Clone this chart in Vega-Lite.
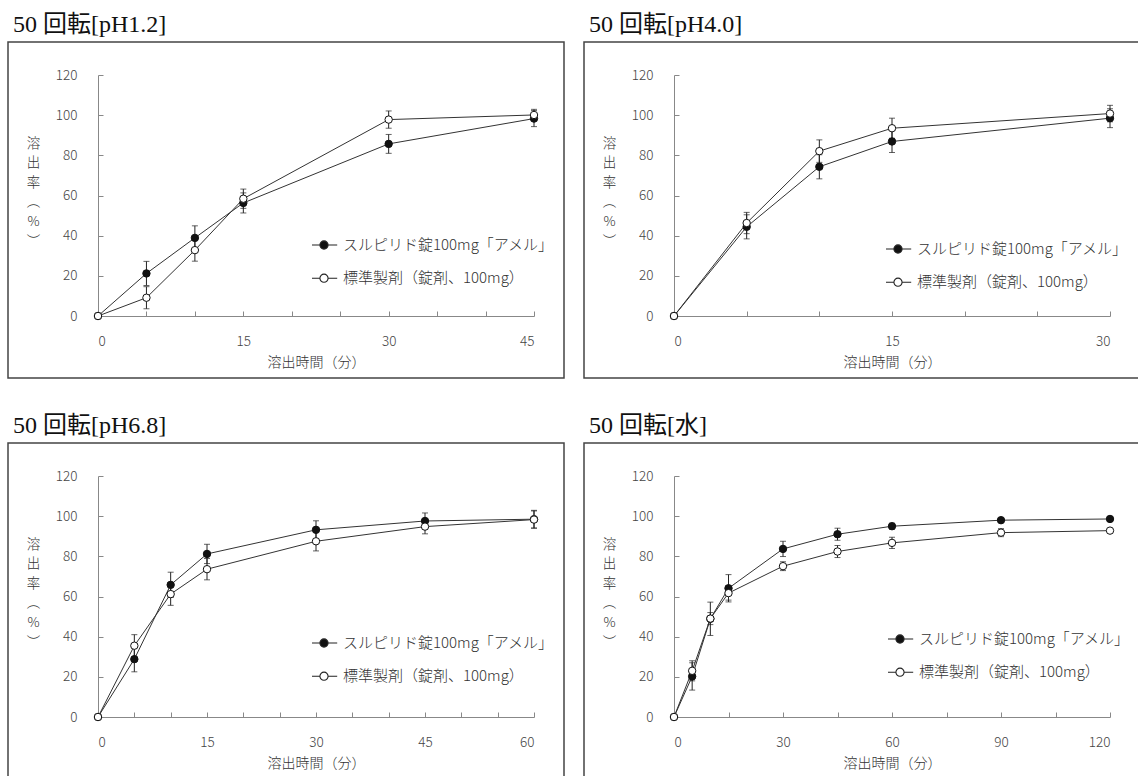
{
  "$schema": "https://vega.github.io/schema/vega-lite/v6.json",
  "background": "white",
  "padding": {"left": 7, "top": 12, "right": 0, "bottom": 0},
  "config": {
    "view": {"stroke": "#444", "strokeWidth": 1.5},
    "axis": {"grid": false, "domainColor": "#888", "tickColor": "#888", "labelFont": "Noto Sans CJK JP", "labelFontSize": 13.5, "labelFontWeight": 300, "labelColor": "#444", "titleFont": "Noto Sans CJK JP", "titleFontWeight": 300, "titleFontSize": 14, "titleColor": "#333"},
    "axisX": {"offset": -62, "tickSize": -5, "labelPadding": 23, "titleY": 46, "titleBaseline": "middle"},
    "axisY": {"offset": -90, "tickSize": -5, "labelPadding": 26, "titleAngle": 0, "titleX": -65, "titleY": 101, "titleAlign": "center", "titleBaseline": "middle", "titleLineHeight": 19.6, "titleFontSize": 13.5},
    "legend": {"title": null, "orient": "none", "symbolType": "M-1,0L-0.34,0M0.34,0L1.1,0M-0.34,0A0.34,0.34,0,1,1,0.34,0A0.34,0.34,0,1,1,-0.34,0Z", "symbolSize": 576, "symbolStrokeColor": "#222", "symbolStrokeWidth": 1.1, "labelFont": "Noto Sans CJK JP", "labelFontSize": 15, "labelFontWeight": 300, "labelColor": "#333", "labelOffset": 6, "rowPadding": 12.2, "padding": 0, "labelLimit": 400},
    "title": {"anchor": "start", "frame": "group", "font": "Liberation Serif, Noto Sans CJK JP", "fontSize": 24, "fontWeight": "normal", "color": "#111", "offset": 5, "baseline": "alphabetic", "dx": 5}
  },
  "datasets": {
    "p1": [
      {"t": 0, "series": "スルピリド錠100mg「アメル」", "y": 0, "sd": 0},
      {"t": 5, "series": "スルピリド錠100mg「アメル」", "y": 21.2, "sd": 6},
      {"t": 10, "series": "スルピリド錠100mg「アメル」", "y": 38.9, "sd": 6},
      {"t": 15, "series": "スルピリド錠100mg「アメル」", "y": 56.3, "sd": 5},
      {"t": 30, "series": "スルピリド錠100mg「アメル」", "y": 85.7, "sd": 4.7},
      {"t": 45, "series": "スルピリド錠100mg「アメル」", "y": 98.3, "sd": 4},
      {"t": 0, "series": "標準製剤（錠剤、100mg）", "y": 0, "sd": 0},
      {"t": 5, "series": "標準製剤（錠剤、100mg）", "y": 9.1, "sd": 5.5},
      {"t": 10, "series": "標準製剤（錠剤、100mg）", "y": 32.8, "sd": 5.5},
      {"t": 15, "series": "標準製剤（錠剤、100mg）", "y": 58.4, "sd": 4.8},
      {"t": 30, "series": "標準製剤（錠剤、100mg）", "y": 97.8, "sd": 4.3},
      {"t": 45, "series": "標準製剤（錠剤、100mg）", "y": 100.1, "sd": 2.8}
    ],
    "p2": [
      {"t": 0, "series": "スルピリド錠100mg「アメル」", "y": 0, "sd": 0},
      {"t": 5, "series": "スルピリド錠100mg「アメル」", "y": 44.4, "sd": 6},
      {"t": 10, "series": "スルピリド錠100mg「アメル」", "y": 74.3, "sd": 6},
      {"t": 15, "series": "スルピリド錠100mg「アメル」", "y": 86.9, "sd": 5.5},
      {"t": 30, "series": "スルピリド錠100mg「アメル」", "y": 98.5, "sd": 4.7},
      {"t": 0, "series": "標準製剤（錠剤、100mg）", "y": 0, "sd": 0},
      {"t": 5, "series": "標準製剤（錠剤、100mg）", "y": 46.3, "sd": 5.3},
      {"t": 10, "series": "標準製剤（錠剤、100mg）", "y": 82.1, "sd": 5.6},
      {"t": 15, "series": "標準製剤（錠剤、100mg）", "y": 93.5, "sd": 5},
      {"t": 30, "series": "標準製剤（錠剤、100mg）", "y": 100.8, "sd": 4.1}
    ],
    "p3": [
      {"t": 0, "series": "スルピリド錠100mg「アメル」", "y": 0, "sd": 0},
      {"t": 5, "series": "スルピリド錠100mg「アメル」", "y": 28.8, "sd": 6.3},
      {"t": 10, "series": "スルピリド錠100mg「アメル」", "y": 65.8, "sd": 6.3},
      {"t": 15, "series": "スルピリド錠100mg「アメル」", "y": 81.2, "sd": 4.8},
      {"t": 30, "series": "スルピリド錠100mg「アメル」", "y": 93.2, "sd": 4.5},
      {"t": 45, "series": "スルピリド錠100mg「アメル」", "y": 97.6, "sd": 4},
      {"t": 60, "series": "スルピリド錠100mg「アメル」", "y": 98.5, "sd": 4.4},
      {"t": 0, "series": "標準製剤（錠剤、100mg）", "y": 0, "sd": 0},
      {"t": 5, "series": "標準製剤（錠剤、100mg）", "y": 35.5, "sd": 5.5},
      {"t": 10, "series": "標準製剤（錠剤、100mg）", "y": 61.2, "sd": 5.6},
      {"t": 15, "series": "標準製剤（錠剤、100mg）", "y": 73.6, "sd": 5.3},
      {"t": 30, "series": "標準製剤（錠剤、100mg）", "y": 87.5, "sd": 4.8},
      {"t": 45, "series": "標準製剤（錠剤、100mg）", "y": 94.8, "sd": 3.6},
      {"t": 60, "series": "標準製剤（錠剤、100mg）", "y": 98.3, "sd": 4.3}
    ],
    "p4": [
      {"t": 0, "series": "スルピリド錠100mg「アメル」", "y": 0, "sd": 0},
      {"t": 5, "series": "スルピリド錠100mg「アメル」", "y": 20.2, "sd": 6.8},
      {"t": 10, "series": "スルピリド錠100mg「アメル」", "y": 48.9, "sd": 8.3},
      {"t": 15, "series": "スルピリド錠100mg「アメル」", "y": 64.1, "sd": 6.8},
      {"t": 30, "series": "スルピリド錠100mg「アメル」", "y": 83.7, "sd": 3.8},
      {"t": 45, "series": "スルピリド錠100mg「アメル」", "y": 91, "sd": 3},
      {"t": 60, "series": "スルピリド錠100mg「アメル」", "y": 95, "sd": 1.5},
      {"t": 90, "series": "スルピリド錠100mg「アメル」", "y": 98, "sd": 1},
      {"t": 120, "series": "スルピリド錠100mg「アメル」", "y": 98.6, "sd": 1.2},
      {"t": 0, "series": "標準製剤（錠剤、100mg）", "y": 0, "sd": 0},
      {"t": 5, "series": "標準製剤（錠剤、100mg）", "y": 23, "sd": 5},
      {"t": 10, "series": "標準製剤（錠剤、100mg）", "y": 49, "sd": 3},
      {"t": 15, "series": "標準製剤（錠剤、100mg）", "y": 61.7, "sd": 3.5},
      {"t": 30, "series": "標準製剤（錠剤、100mg）", "y": 75.1, "sd": 2.2},
      {"t": 45, "series": "標準製剤（錠剤、100mg）", "y": 82.4, "sd": 3},
      {"t": 60, "series": "標準製剤（錠剤、100mg）", "y": 86.7, "sd": 2.8},
      {"t": 90, "series": "標準製剤（錠剤、100mg）", "y": 91.8, "sd": 2},
      {"t": 120, "series": "標準製剤（錠剤、100mg）", "y": 92.8, "sd": 1}
    ]
  },
  "vconcat": [
    {
      "hconcat": [
        {
          "title": {"text": "50 回転[pH1.2]"},
          "width": 556, "height": 336,
          "data": {"name": "p1"},
          "encoding": {
            "x": {"field": "t", "type": "quantitative", "scale": {"domain": [0, 45], "range": [90, 526], "nice": false, "zero": true}, "axis": {"values": [0, 5, 10, 15, 20, 25, 30, 35, 40, 45], "labelExpr": "datum.value % 15 === 0 ? datum.label : ''", "title": "溶出時間（分）"}},
            "y": {"field": "y", "type": "quantitative", "scale": {"domain": [0, 120], "range": [274, 33], "nice": false}, "axis": {"values": [0, 20, 40, 60, 80, 100, 120], "title": ["溶", "出", "率", "︵", "%", "︶"]}}
          },
          "layer": [
            {"mark": {"type": "line", "color": "#333", "strokeWidth": 1}, "encoding": {"detail": {"field": "series"}}},
            {"transform": [{"filter": "datum.sd > 0"}], "mark": {"type": "errorbar", "ticks": {"size": 6}, "color": "#222"}, "encoding": {"yError": {"field": "sd"}}},
            {"mark": {"type": "point", "shape": "circle", "filled": true, "size": 55, "stroke": "#111", "strokeWidth": 1, "opacity": 1},
             "encoding": {"fill": {"field": "series", "type": "nominal", "scale": {"domain": ["スルピリド錠100mg「アメル」", "標準製剤（錠剤、100mg）"], "range": ["#111", "#fff"]}, "legend": {"legendX": 303, "legendY": 190}}}}
          ]
        },
        {
          "title": {"text": "50 回転[pH4.0]"},
          "width": 556, "height": 336,
          "data": {"name": "p2"},
          "encoding": {
            "x": {"field": "t", "type": "quantitative", "scale": {"domain": [0, 30], "range": [90, 526], "nice": false, "zero": true}, "axis": {"values": [0, 5, 10, 15, 20, 25, 30], "labelExpr": "datum.value % 15 === 0 ? datum.label : ''", "title": "溶出時間（分）"}},
            "y": {"field": "y", "type": "quantitative", "scale": {"domain": [0, 120], "range": [274, 33], "nice": false}, "axis": {"values": [0, 20, 40, 60, 80, 100, 120], "title": ["溶", "出", "率", "︵", "%", "︶"]}}
          },
          "layer": [
            {"mark": {"type": "line", "color": "#333", "strokeWidth": 1}, "encoding": {"detail": {"field": "series"}}},
            {"transform": [{"filter": "datum.sd > 0"}], "mark": {"type": "errorbar", "ticks": {"size": 6}, "color": "#222"}, "encoding": {"yError": {"field": "sd"}}},
            {"mark": {"type": "point", "shape": "circle", "filled": true, "size": 55, "stroke": "#111", "strokeWidth": 1, "opacity": 1},
             "encoding": {"fill": {"field": "series", "type": "nominal", "scale": {"domain": ["スルピリド錠100mg「アメル」", "標準製剤（錠剤、100mg）"], "range": ["#111", "#fff"]}, "legend": {"legendX": 301, "legendY": 194}}}}
          ]
        }
      ],
      "spacing": 18,
      "resolve": {"scale": {"fill": "independent"}, "legend": {"fill": "independent"}}
    },
    {
      "hconcat": [
        {
          "title": {"text": "50 回転[pH6.8]"},
          "width": 556, "height": 336,
          "data": {"name": "p3"},
          "encoding": {
            "x": {"field": "t", "type": "quantitative", "scale": {"domain": [0, 60], "range": [90, 526], "nice": false, "zero": true}, "axis": {"values": [0, 5, 10, 15, 20, 25, 30, 35, 40, 45, 50, 55, 60], "labelExpr": "datum.value % 15 === 0 ? datum.label : ''", "title": "溶出時間（分）"}},
            "y": {"field": "y", "type": "quantitative", "scale": {"domain": [0, 120], "range": [274, 33], "nice": false}, "axis": {"values": [0, 20, 40, 60, 80, 100, 120], "title": ["溶", "出", "率", "︵", "%", "︶"]}}
          },
          "layer": [
            {"mark": {"type": "line", "color": "#333", "strokeWidth": 1}, "encoding": {"detail": {"field": "series"}}},
            {"transform": [{"filter": "datum.sd > 0"}], "mark": {"type": "errorbar", "ticks": {"size": 6}, "color": "#222"}, "encoding": {"yError": {"field": "sd"}}},
            {"mark": {"type": "point", "shape": "circle", "filled": true, "size": 55, "stroke": "#111", "strokeWidth": 1, "opacity": 1},
             "encoding": {"fill": {"field": "series", "type": "nominal", "scale": {"domain": ["スルピリド錠100mg「アメル」", "標準製剤（錠剤、100mg）"], "range": ["#111", "#fff"]}, "legend": {"legendX": 303, "legendY": 187}}}}
          ]
        },
        {
          "title": {"text": "50 回転[水]"},
          "width": 556, "height": 336,
          "data": {"name": "p4"},
          "encoding": {
            "x": {"field": "t", "type": "quantitative", "scale": {"domain": [0, 120], "range": [90, 526], "nice": false, "zero": true}, "axis": {"values": [0, 15, 30, 45, 60, 75, 90, 105, 120], "labelExpr": "datum.value % 30 === 0 ? datum.label : ''", "title": "溶出時間（分）"}},
            "y": {"field": "y", "type": "quantitative", "scale": {"domain": [0, 120], "range": [274, 33], "nice": false}, "axis": {"values": [0, 20, 40, 60, 80, 100, 120], "title": ["溶", "出", "率", "︵", "%", "︶"]}}
          },
          "layer": [
            {"mark": {"type": "line", "color": "#333", "strokeWidth": 1}, "encoding": {"detail": {"field": "series"}}},
            {"transform": [{"filter": "datum.sd > 0"}], "mark": {"type": "errorbar", "ticks": {"size": 6}, "color": "#222"}, "encoding": {"yError": {"field": "sd"}}},
            {"mark": {"type": "point", "shape": "circle", "filled": true, "size": 55, "stroke": "#111", "strokeWidth": 1, "opacity": 1},
             "encoding": {"fill": {"field": "series", "type": "nominal", "scale": {"domain": ["スルピリド錠100mg「アメル」", "標準製剤（錠剤、100mg）"], "range": ["#111", "#fff"]}, "legend": {"legendX": 303, "legendY": 183}}}}
          ]
        }
      ],
      "spacing": 18,
      "resolve": {"scale": {"fill": "independent"}, "legend": {"fill": "independent"}}
    }
  ],
  "spacing": 34,
  "resolve": {"scale": {"fill": "independent"}, "legend": {"fill": "independent"}}
}
